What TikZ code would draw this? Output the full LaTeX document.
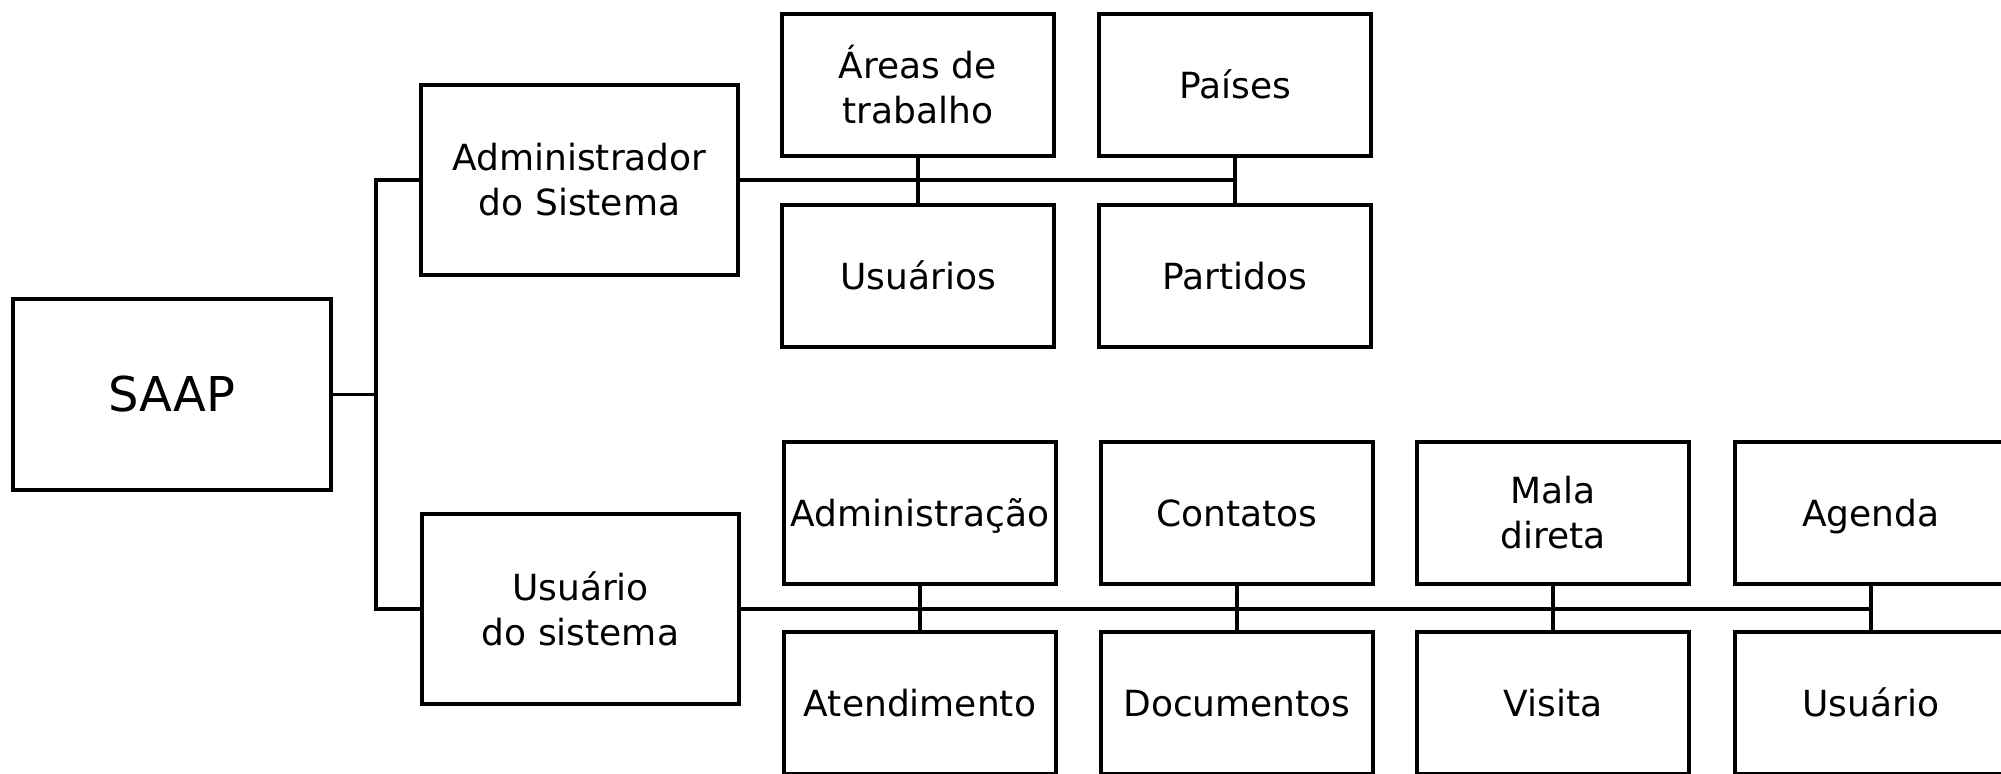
\documentclass[tikz,border=0pt]{standalone}
\usepackage{fontspec}
\setmainfont{DejaVu Sans}
\usepackage{tikz}

\begin{document}
\begin{tikzpicture}[x=0.5pt,y=-0.5pt,
  caixa/.style={draw=black,line width=2pt,rectangle,inner sep=1pt,align=center,
    font=\fontsize{18}{22.5}\selectfont,minimum width=136pt,minimum height=71pt},
  linha/.style={caixa,text height=13pt,text depth=0pt},
  grande/.style={caixa,minimum width=158.5pt,minimum height=95pt},
  liga/.style={black,line width=1.6pt}]
  \useasboundingbox (0,0) rectangle (2001,773);
  \clip (0,0) rectangle (2001,773);

  % Root
  \node[grande,minimum width=159pt,minimum height=95.5pt,
    font=\fontsize{24}{30}\selectfont] (saap) at (172,394.5) {SAAP};

  % Profiles
  \node[grande] (admsis) at (579.5,180) {Administrador\\do Sistema};
  \node[grande] (usrsis) at (580.5,609) {Usuário\\do sistema};

  % Upper group
  \node[caixa] (areas)    at (918,85)   {Áreas de\\trabalho};
  \node[linha] (usuarios) at (918,276)  {Usuários};
  \node[linha] (paises)   at (1235,85)  {Países};
  \node[linha] (partidos) at (1235,276) {Partidos};

  % Lower group
  \node[linha] (adm)    at (920,513)  {Administração};
  \node[linha] (atend)  at (920,703)  {Atendimento};
  \node[linha] (cont)   at (1237,513) {Contatos};
  \node[linha] (docs)   at (1237,703) {Documentos};
  \node[caixa] (mala)   at (1553,513) {Mala\\direta};
  \node[linha] (visita) at (1553,703) {Visita};
  \node[linha] (agenda) at (1871,513) {Agenda};
  \node[linha] (usr)    at (1871,703) {Usuário};

  % Bracket
  \coordinate (split) at (376,394.5);
  \draw[liga] (saap.east) -- (split);
  \draw[liga] (admsis.west) -| (split);
  \draw[liga] (usrsis.west) -| (split);

  % Upper bus
  \draw[liga] (admsis.east) -- (admsis.east -| paises.south);
  \foreach \a/\b in {areas/usuarios,paises/partidos}
    \draw[liga] (\a.south) -- (\b.north);

  % Lower bus
  \draw[liga] (usrsis.east) -- (usrsis.east -| agenda.south);
  \foreach \a/\b in {adm/atend,cont/docs,mala/visita,agenda/usr}
    \draw[liga] (\a.south) -- (\b.north);
\end{tikzpicture}
\end{document}
